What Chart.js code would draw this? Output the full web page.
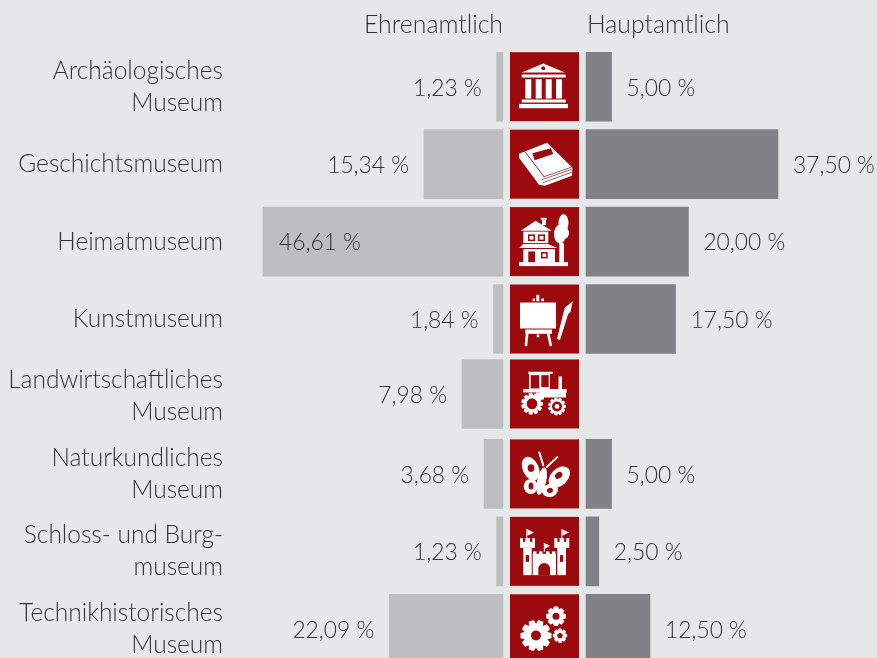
<!DOCTYPE html>
<html lang="de">
<head>
<meta charset="utf-8">
<title>Museen</title>
<script src="https://cdn.jsdelivr.net/npm/chart.js@4"></script>
<style>
html,body{margin:0;padding:0;background:#e6e7e9;overflow:hidden;width:877px;height:658px}
#wrap{position:absolute;left:0;top:0;width:877px;height:668px}
</style>
</head>
<body>
<div id="wrap"><canvas id="c" width="877" height="668"></canvas></div>
<script>
const categories = [
  ['Archäologisches','Museum'],
  'Geschichtsmuseum',
  'Heimatmuseum',
  'Kunstmuseum',
  ['Landwirtschaftliches','Museum'],
  ['Naturkundliches','Museum'],
  ['Schloss- und Burg-','museum'],
  ['Technikhistorisches','Museum']
];
const ehrenamtlich = [1.23, 15.34, 46.61, 1.84, 7.98, 3.68, 1.23, 22.09];
const hauptamtlich = [5.00, 37.50, 20.00, 17.50, null, 5.00, 2.50, 12.50];
const seriesNames = ['Ehrenamtlich', 'Hauptamtlich'];

const RED='#9d0a0e', W='#ffffff';
const FAMILY='Lato, "Open Sans", sans-serif';
const TXT='#333335';

function rect(g,x0,y0,x1,y1,c){g.fillStyle=c;g.fillRect(x0,y0,x1-x0,y1-y0);}
function poly(g,pts,c){g.fillStyle=c;g.beginPath();pts.forEach((p,i)=>i?g.lineTo(p[0],p[1]):g.moveTo(p[0],p[1]));g.closePath();g.fill();}
function ell(g,x,y,rx,ry,rot,c){g.fillStyle=c;g.beginPath();g.ellipse(x,y,rx,ry,(rot||0)*Math.PI/180,0,Math.PI*2);g.fill();}
function line(g,x0,y0,x1,y1,w,c){g.strokeStyle=c;g.lineWidth=w;g.lineCap='round';g.beginPath();g.moveTo(x0,y0);g.lineTo(x1,y1);g.stroke();}
function gear(g,x,y,r,hole,n,c,hc){
  g.fillStyle=c;g.beginPath();
  const inner=r*0.76;
  for(let i=0;i<n;i++){
    const a=i/n*Math.PI*2,s=Math.PI*2/n;
    [[inner,-.5],[r,-.27],[r,.27],[inner,.5]].forEach((q,j)=>{
      const t=a+q[1]*s,px=x+Math.cos(t)*q[0],py=y+Math.sin(t)*q[0];
      (i===0&&j===0)?g.moveTo(px,py):g.lineTo(px,py);
    });
  }
  g.closePath();g.fill();
  ell(g,x,y,hole,hole,0,hc);
}
const icons=[
 g=>{ // Museum
  poly(g,[[11.7,20.3],[33.3,11.3],[55,20.3]],W); ell(g,33.3,16,2,2,0,RED);
  rect(g,11.7,22.3,55.7,25.3,W);
  [[15.3,21.3],[25.7,31.7],[35.7,41.7],[46,52]].forEach(c=>rect(g,c[0],27,c[1],46.3,W));
  rect(g,11.7,47.3,55.7,50.3,W); rect(g,9,51.7,58,56,W);
 },
 g=>{ // Buch
  poly(g,[[9,24],[37,13],[62.5,38],[62,46],[35,56],[29,55],[9,28]],W);
  line(g,15,22,34,47,.9,RED);
  line(g,32,50,62,39.5,.7,RED); line(g,33,53,62,42.5,.7,RED);
  line(g,34,47,61.5,37.5,.7,RED);
  poly(g,[[22.3,23.7],[41,18.7],[43.3,24.3],[24.7,30.7]],RED);
 },
 g=>{ // Haus
  rect(g,9,55,58,59,W);
  poly(g,[[10.7,23.7],[25.7,13.7],[41.7,23.7]],W);
  rect(g,30.7,10.7,36.7,12.5,W); rect(g,32,12.5,36,18,W);
  rect(g,13.3,24.5,38.3,36,W);
  [[18,25],[28,35]].forEach(w=>{rect(g,w[0],27.3,w[1],34,RED);rect(g,w[0]+1.5,28.8,w[1]-1.5,32.5,W);});
  poly(g,[[9.3,41],[13,37],[38,37],[47.3,41]],W);
  rect(g,13.3,42,45,55,W);
  rect(g,18.3,44.3,25,55,RED);
  rect(g,31,45,37.7,51.3,RED); rect(g,32.5,46.5,36.2,49.8,W);
  rect(g,49.3,36,54,55,W);
  ell(g,53.5,16,5,9,0,W); ell(g,50,27,6,9.5,0,W); ell(g,54,26,5,6,0,W);
 },
 g=>{ // Staffelei
  rect(g,10,18,46,44,W);
  rect(g,26.3,10.3,29.3,16.7,W); rect(g,22.7,14,25,16.7,W); rect(g,31.3,14,34,16.7,W);
  rect(g,15.3,45,42,49.3,W);
  line(g,17,49.5,16,60.5,2.6,W); line(g,38.3,49.5,40.7,60.5,2.6,W);
  rect(g,26.7,50,29.3,52.7,W);
  poly(g,[[62.7,16.7],[60.5,27.5],[58,30],[50,55.5],[47,54.5],[53.5,28],[55,23]],W);
 },
 g=>{ // Traktor
  rect(g,18.3,12.3,42.7,14.3,W);
  rect(g,19,14,40,30,W);
  rect(g,20.7,15.7,29.3,29,RED); rect(g,31.3,15.7,38.7,27.7,RED);
  rect(g,48.5,17,52,31,W); rect(g,13.3,29.5,56.7,33,W); rect(g,30,30,56,38,W); rect(g,26,33,34,40,W);
  gear(g,22,44.3,11,5.2,11,W,RED); ell(g,22,44.3,5.2,5.2,0,RED);
  gear(g,47,47,9,5,11,W,RED); ell(g,47,47,2.4,2.4,0,W);
 },
 g=>{ // Schmetterling
  line(g,29.3,13,33.3,26,2,W); line(g,47.3,17.7,36.7,27.7,2,W);
  ell(g,20.7,29.3,8,12.5,-25,W); ell(g,21,28.7,3.4,3.8,0,RED);
  ell(g,49.3,37.7,12.5,8.5,-45,W); ell(g,48.7,36,4,3,-35,RED);
  ell(g,20.7,47,7,7.5,0,W); ell(g,21,46.5,2.5,3.5,0,RED);
  ell(g,40,51,8,6.5,-15,W); ell(g,40,51,3,2.5,-15,RED);
  ell(g,31.7,41.7,4.5,14,12,W);
 },
 g=>{ // Burg
  rect(g,10,21.3,25,31,W); rect(g,13.3,31,21.7,58.3,W);
  rect(g,44.3,21.3,59.3,31,W); rect(g,47.3,31,56,58.3,W);
  rect(g,13,21.3,15.3,25,RED); rect(g,20,21.3,22.3,25,RED);
  rect(g,47.3,21.3,49.6,25,RED); rect(g,54,21.3,56.3,25,RED);
  rect(g,16.3,12.3,17.3,21.5,W); poly(g,[[17.3,12.3],[24,15.7],[17.3,19]],W);
  rect(g,51.3,12.3,52.3,21.5,W); poly(g,[[52.3,12.3],[59,15.7],[52.3,19]],W);
  rect(g,15.7,38.3,19,45,RED); rect(g,50,38.3,53.3,45,RED);
  rect(g,22.7,37,46,58.3,W);
  [[23,26.5],[29,32.5],[36,39.5],[42,45.5]].forEach(m=>rect(g,m[0],34.5,m[1],37.5,W));
  rect(g,33.8,26.3,34.8,35,W); poly(g,[[34.8,26.3],[40,29],[34.8,32]],W);
  g.fillStyle=RED;g.beginPath();g.moveTo(28.3,58.3);g.lineTo(28.3,52);g.arc(34.2,52,5.9,Math.PI,0);g.lineTo(40.1,58.3);g.closePath();g.fill();
 },
 g=>{ // Zahnräder
  gear(g,26,41.3,15.7,5,10,W,RED);
  gear(g,46,22,10,3.5,8,W,RED);
  gear(g,50,41.3,7.3,2.7,8,W,RED);
 }
];

function fmt(v){return v.toFixed(2).replace('.',',')+' %';}

const deco={
  id:'deco',
  beforeDatasetsDraw(chart){
    // the reference sets the fifth row slightly higher than the regular rhythm
    const y=chart.scales.y;
    chart.getDatasetMeta(0).data[4].y=y.getPixelForValue(4)-2.5;
    chart.getDatasetMeta(1).data[4].y=y.getPixelForValue(4)-2.5;
  },
  afterDatasetsDraw(chart){
    const g=chart.ctx;
    const half=34.5, m0=chart.getDatasetMeta(0);
    g.save();
    categories.forEach((_,i)=>{
      const cy=m0.data[i].y, ox=510, oy=cy-half;
      g.save();
      g.fillStyle=RED;g.fillRect(ox,oy,69,69);
      g.beginPath();g.rect(ox,oy,69,69);g.clip();
      g.translate(ox,oy);icons[i](g);
      g.restore();
    });
    g.font='300 22.8px '+FAMILY;g.fillStyle=TXT;g.textBaseline='middle';
    m0.data.forEach((bar,i)=>{
      const v=ehrenamtlich[i];
      if(v>40){g.textAlign='left';g.fillText(fmt(v),bar.x+16,bar.y+1.5);}
      else{g.textAlign='right';g.fillText(fmt(v),bar.x-15,bar.y+1.5);}
    });
    chart.getDatasetMeta(1).data.forEach((bar,i)=>{
      const v=hauptamtlich[i];
      if(v==null)return;
      g.textAlign='left';g.fillText(fmt(v),bar.x+15,bar.y+1.5);
    });
    g.font='300 24.8px '+FAMILY;
    g.textAlign='right';g.fillText(seriesNames[0],chart.scales.xL.getPixelForValue(0),25.5);
    g.textAlign='left';g.fillText(seriesNames[1],chart.scales.xR.getPixelForValue(0)+1,25.5);
    g.restore();
  }
};

const PX_L=5.15, PX_R=5.12, AREA_L=232, AREA_R=877, ZERO_L=503, ZERO_R=586;
new Chart(document.getElementById('c'),{
  type:'bar',
  data:{labels:categories,datasets:[
    {label:seriesNames[0],data:ehrenamtlich,xAxisID:'xL',backgroundColor:'#bcbec0',barThickness:69,grouped:false},
    {label:seriesNames[1],data:hauptamtlich,xAxisID:'xR',backgroundColor:'#808285',barThickness:69,grouped:false}
  ]},
  plugins:[deco],
  options:{
    indexAxis:'y',responsive:false,animation:false,
    layout:{padding:{top:48,bottom:0.5,left:0,right:0}},
    plugins:{legend:{display:false},tooltip:{enabled:false},title:{display:false}},
    scales:{
      xL:{type:'linear',position:'bottom',reverse:true,display:false,
          min:-(AREA_R-ZERO_L)/PX_L,max:(ZERO_L-AREA_L)/PX_L},
      xR:{type:'linear',position:'bottom',display:false,
          min:-(ZERO_R-AREA_L)/PX_R,max:(AREA_R-ZERO_R)/PX_R},
      y:{type:'category',position:'left',
         afterFit(s){s.width=AREA_L;s.paddingTop=0;s.paddingBottom=0;},
         grid:{display:false,drawTicks:false},border:{display:false},
         ticks:{autoSkip:false,padding:9,color:TXT,font:{family:FAMILY,size:24.5,weight:'300',lineHeight:32/24.5}}}
    }
  }
});
</script>
</body>
</html>
